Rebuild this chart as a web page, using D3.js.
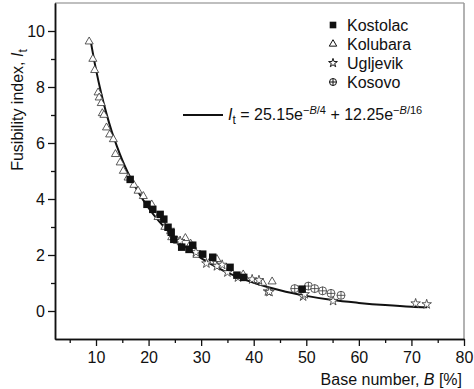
<!DOCTYPE html>
<html>
<head>
<meta charset="utf-8">
<script src="https://cdn.jsdelivr.net/npm/d3@7"></script>
<style>
  body { margin: 0; background: #fff; }
  svg text { font-family: "Liberation Sans", Arial, Helvetica, sans-serif; fill: #111; }
</style>
</head>
<body>
<div id="canvas"></div>
<script>
// data: [B %, It]
const kostolac = [[16.5,4.7],[19.7,3.81],[20.8,3.63],[22.2,3.45],[22.9,3.28],[23.7,2.99],[24.3,2.81],
  [24.8,2.56],[26.3,2.28],[27.7,2.2],[28.4,2.35],[30.3,2.03],[32.2,1.92],[35.5,1.56],[36.8,1.28],
  [38.1,1.2],[49.2,0.78]];
const kolubara = [[8.7,9.62],[9.4,9.0],[9.75,8.6],[10.4,7.8],[10.6,7.62],[11,7.42],[11.2,7.06],[11.5,7.0],
  [12,6.55],[12.6,6.3],[13.3,6.13],[13.7,5.6],[14.6,5.3],[15.2,5.0],[16.1,4.76],[17.2,4.5],[18,4.29],
  [19,4.1],[20.6,3.8],[21.8,3.35],[23.1,3.0],[24.4,2.63],[25.5,2.5],[27,2.6],[28,2.4],[29.2,2.0],
  [31.7,1.77],[33,1.85],[38,1.3],[41.7,1.0],[43.5,1.05]];
const ugljevik = [[24,2.9],[26,2.5],[29,2.1],[31,1.7],[33,1.6],[34,1.65],[35,1.38],[37,1.2],[39.7,1.13],
  [41,1.1],[42.7,0.7],[43,0.68],[49.4,0.52],[49.7,0.6],[55.1,0.36],[70.8,0.27],[72.9,0.24]];
const kosovo = [[47.8,0.8],[50.4,0.89],[51.6,0.8],[53.1,0.72],[54.7,0.63],[56.6,0.56]];
// fitted curve It = 25.15e^(-B/4) + 12.25e^(-B/16)
const fitCurve = [[9,9.63],[10,8.62],[11,7.77],[12,7.04],[13,6.41],[14,5.87],[15,5.39],[16,4.97],
  [18,4.26],[20,3.68],[22,3.2],[24,2.8],[26,2.45],[28,2.15],[30,1.89],[33,1.56],[36,1.29],[40,1.01],
  [45,0.74],[50,0.54],[55,0.39],[60,0.29],[65,0.21],[70,0.15],[73,0.13]];

const xMajor = [10,20,30,40,50,60,70,80];
const xMinor = [5,15,25,35,45,55,65,75];
const yMajor = [0,2,4,6,8,10];
const yMinor = [1,3,5,7,9];
const legendNames = ["Kostolac","Kolubara","Ugljevik","Kosovo"];

const w = 474, h = 389;
const pLeft = 55, pRight = 464, pTop = 3, pBottom = 339;

const x = d3.scaleLinear().domain([2.2, 80]).range([pLeft, pRight]);
const y = d3.scaleLinear().domain([-1, 11]).range([pBottom, pTop]);

const svg = d3.select("#canvas").append("svg")
  .attr("width", w).attr("height", h);

// frame (top/right gray)
svg.append("line").attr("x1", pLeft).attr("x2", pRight).attr("y1", pTop).attr("y2", pTop)
  .attr("stroke", "#aaa").attr("stroke-width", 1.5);
svg.append("line").attr("x1", pRight).attr("x2", pRight).attr("y1", pTop).attr("y2", pBottom)
  .attr("stroke", "#999").attr("stroke-width", 1.5);

// axes
svg.append("g").attr("transform", `translate(0,${pBottom})`)
  .call(d3.axisBottom(x).tickValues(xMajor).tickSize(7).tickSizeOuter(0).tickPadding(6));
svg.append("g").attr("transform", `translate(0,${pBottom})`)
  .call(d3.axisBottom(x).tickValues(xMinor).tickSize(4).tickSizeOuter(0).tickFormat(""));
svg.append("g").attr("transform", `translate(${pLeft},0)`)
  .call(d3.axisLeft(y).tickValues(yMajor).tickSize(7).tickSizeOuter(0).tickPadding(3));
svg.append("g").attr("transform", `translate(${pLeft},0)`)
  .call(d3.axisLeft(y).tickValues(yMinor).tickSize(4).tickSizeOuter(0).tickFormat(""));

svg.selectAll(".domain").attr("stroke", "#111").attr("stroke-width", 1.5)
svg.selectAll(".tick line").attr("stroke", "#111").attr("stroke-width", 1.3)
svg.selectAll(".tick text").style("font-size", "16px").attr("fill", "#111")

// axis titles
const xt = svg.append("text").attr("x", 462).attr("y", 385)
  .attr("text-anchor", "end").style("font-size", "16px");
xt.append("tspan").text("Base number, ");
xt.append("tspan").style("font-style", "italic").text("B");
xt.append("tspan").text(" [%]");

const yt = svg.append("text").attr("transform", "translate(23,110) rotate(-90)")
  .attr("text-anchor", "middle").style("font-size", "16px");
yt.append("tspan").text("Fusibility index, ");
yt.append("tspan").style("font-style", "italic").text("I");
yt.append("tspan").attr("dy", 4).style("font-size", "12px").text("t");

// fitted line
const line = d3.line().x(d => x(d[0])).y(d => y(d[1])).curve(d3.curveMonotoneX);
svg.append("path").datum(fitCurve).attr("d", line)
  .attr("fill", "none").attr("stroke", "#111").attr("stroke-width", 2);

// markers
const sym = {
  square: d3.symbol().type(d3.symbolSquare).size(56),
  triangle: d3.symbol().type(d3.symbolTriangle).size(28),
  star: d3.symbol().type(d3.symbolStar).size(28)
};

function drawSeries(data, kind, g) {
  const grp = g.append("g");
  if (kind === "circle") {
    const c = grp.selectAll("g").data(data).enter().append("g")
      .attr("transform", d => `translate(${x(d[0])},${y(d[1])})`);
    c.append("circle").attr("r", 4).attr("fill", "#fff").attr("stroke", "#333").attr("stroke-width", 0.8);
    c.append("path").attr("d", "M-4,0H4M0,-4V4").attr("stroke", "#333").attr("stroke-width", 0.8);
    return;
  }
  grp.selectAll("path").data(data).enter().append("path")
    .attr("transform", d => `translate(${x(d[0])},${y(d[1])})`)
    .attr("d", sym[kind])
    .attr("fill", kind === "square" ? "#111" : "#fff")
    .attr("stroke", kind === "square" ? "#111" : "#333")
    .attr("stroke-width", kind === "square" ? 0 : 0.8);
}
const marks = svg.append("g");
drawSeries(kolubara, "triangle", marks);
drawSeries(ugljevik, "star", marks);
drawSeries(kosovo, "circle", marks);
drawSeries(kostolac, "square", marks);

// legend
const kinds = ["square","triangle","star","circle"];
const lg = svg.append("g");
legendNames.forEach(function(name, i) {
  const ly = 25 + i * 19;
  if (kinds[i] === "circle") {
    const c = lg.append("g").attr("transform", `translate(333,${ly})`);
    c.append("circle").attr("r", 3.5).attr("fill", "#fff").attr("stroke", "#111").attr("stroke-width", 1);
    c.append("path").attr("d", "M-3.5,0H3.5M0,-3.5V3.5").attr("stroke", "#111").attr("stroke-width", 1);
  } else {
    lg.append("path").attr("transform", `translate(333,${ly})`)
      .attr("d", kinds[i] === "square" ? d3.symbol().type(d3.symbolSquare).size(44)()
                                        : d3.symbol().type(kinds[i] === "triangle" ? d3.symbolTriangle : d3.symbolStar).size(24)())
      .attr("fill", kinds[i] === "square" ? "#111" : "#fff")
      .attr("stroke", "#111").attr("stroke-width", kinds[i] === "square" ? 0 : 1);
  }
  lg.append("text").attr("x", 347).attr("y", ly + 6).style("font-size", "16px").text(name);
});

// equation legend
svg.append("line").attr("x1", 183).attr("x2", 223).attr("y1", 115).attr("y2", 115)
  .attr("stroke", "#111").attr("stroke-width", 1.8);
const eq = svg.append("text").attr("x", 228).attr("y", 120).style("font-size", "16px");
eq.append("tspan").style("font-style", "italic").text("I");
eq.append("tspan").attr("dy", 4).style("font-size", "12px").text("t");
eq.append("tspan").attr("dy", -4).text(" = 25.15e");
eq.append("tspan").attr("dy", -6).style("font-size", "11px").text("\u2212");
eq.append("tspan").style("font-size", "11px").style("font-style", "italic").text("B");
eq.append("tspan").style("font-size", "11px").text("/4");
eq.append("tspan").attr("dy", 6).text(" + 12.25e");
eq.append("tspan").attr("dy", -6).style("font-size", "11px").text("\u2212");
eq.append("tspan").style("font-size", "11px").style("font-style", "italic").text("B");
eq.append("tspan").style("font-size", "11px").text("/16");
</script>
</body>
</html>
